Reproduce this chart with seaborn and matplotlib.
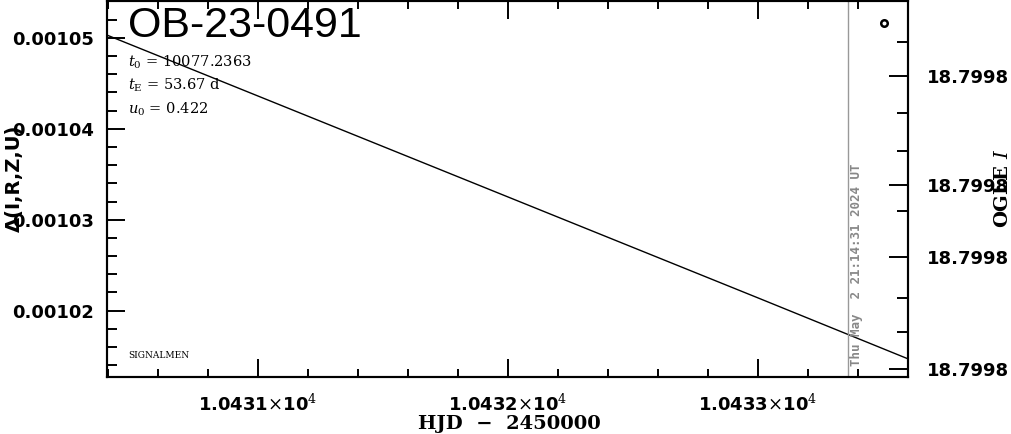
import numpy as np
import pandas as pd
import matplotlib
matplotlib.use('Agg')
import matplotlib.pyplot as plt
import matplotlib.ticker as mticker
import seaborn as sns

# model curve (HJD - 2450000, delta flux)
hjd_model = [10430.396, 10431.0, 10432.0, 10433.0, 10433.6]
delta_model = [0.0010503, 0.0010436, 0.0010325, 0.0010214, 0.0010147]

# single OGLE point near the top right corner
hjd_obs = [10433.504]
delta_obs = [0.0010516]

# "now" marker
hjd_now = 10433.359
now_label = 'Thu May  2 21:14:31 2024 UT'

event_name = 'OB-23-0491'
t0_text = r'$t_0$ = 10077.2363'
tE_text = r'$t_{\rm E}$ = 53.67 d'
u0_text = r'$u_0$ = 0.422'

xticks_major = [10431, 10432, 10433]
xtick_labels = [r'1.0431$\times$10$^4$', r'1.0432$\times$10$^4$', r'1.0433$\times$10$^4$']
yticks_left = [0.00102, 0.00103, 0.00104, 0.00105]
mag_major = [18.799770, 18.799799, 18.799818, 18.799848]
mag_minor = [18.799761, 18.799780, 18.799790, 18.799806, 18.799829, 18.799838]

sns.set_style('ticks')
plt.rcParams['font.family'] = ['DejaVu Sans']
plt.rcParams['mathtext.fontset'] = 'dejavuserif'
plt.rcParams['text.color'] = 'black'
plt.rcParams['axes.edgecolor'] = 'black'
plt.rcParams['axes.labelcolor'] = 'black'
plt.rcParams['xtick.color'] = 'black'
plt.rcParams['ytick.color'] = 'black'

fig = plt.figure(figsize=(10.11, 4.34), dpi=100)
ax = fig.add_axes([0.1058, 0.1313, 0.7923, 0.8675])

df = pd.DataFrame({'hjd': hjd_model, 'delta': delta_model})
sns.lineplot(data=df, x='hjd', y='delta', ax=ax, color='black', lw=1.0)
ax.scatter(hjd_obs, delta_obs, s=22, facecolor='white', edgecolor='black',
           linewidth=1.8, zorder=5)
ax.axvline(hjd_now, color='#999999', lw=1.0)

ax.set_xlim(10430.396, 10433.6)
ax.set_ylim(0.0010127, 0.0010541)
ax.set_xlabel('')
ax.set_ylabel('')

ax.set_xticks(xticks_major)
ax.set_xticklabels(xtick_labels, fontsize=13, fontweight='bold')
ax.xaxis.set_minor_locator(mticker.MultipleLocator(0.2))
ax.set_yticks(yticks_left)
ax.set_yticklabels(['%.5f' % v for v in yticks_left], fontsize=13, fontweight='bold')
ax.yaxis.set_minor_locator(mticker.MultipleLocator(0.000002))

ax.tick_params(axis='x', which='both', direction='in', top=True, bottom=True, width=1.4)
ax.tick_params(axis='x', which='major', length=13, pad=12)
ax.tick_params(axis='x', which='minor', length=6)
ax.tick_params(axis='y', which='both', direction='in', left=True, right=False, width=1.4)
ax.tick_params(axis='y', which='major', length=13, pad=9)
ax.tick_params(axis='y', which='minor', length=7)
for s in ax.spines.values():
    s.set_linewidth(1.5)
    s.set_visible(True)

ax2 = ax.twinx()
ax2.set_ylim(18.79985, 18.79975)
ax2.yaxis.set_major_locator(mticker.FixedLocator(mag_major))
ax2.yaxis.set_minor_locator(mticker.FixedLocator(mag_minor))
ax2.yaxis.set_major_formatter(mticker.FormatStrFormatter('%.4f'))
ax2.tick_params(axis='y', which='both', direction='in', width=1.4, labelsize=13)
ax2.tick_params(axis='y', which='major', length=14, pad=14)
ax2.tick_params(axis='y', which='minor', length=8)
for s in ax2.spines.values():
    s.set_linewidth(1.5)
for lab in ax2.get_yticklabels():
    lab.set_fontweight('bold')

# annotations inside the frame
ax.text(0.026, 0.985, event_name, transform=ax.transAxes, fontsize=31,
        family='Liberation Sans', va='top', ha='left')
ax.text(0.026, 0.835, t0_text, transform=ax.transAxes, fontsize=10.5,
        family='DejaVu Serif', va='center', ha='left')
ax.text(0.026, 0.775, tE_text, transform=ax.transAxes, fontsize=10.5,
        family='DejaVu Serif', va='center', ha='left')
ax.text(0.026, 0.712, u0_text, transform=ax.transAxes, fontsize=10.5,
        family='DejaVu Serif', va='center', ha='left')
ax.text(0.026, 0.058, 'SIGNALMEN', transform=ax.transAxes, fontsize=6.5,
        family='DejaVu Serif', va='center', ha='left')
ax.text(hjd_now + 0.036, 0.03, now_label, transform=ax.get_xaxis_transform(),
        rotation=90, fontsize=9, family='DejaVu Sans Mono', fontweight='bold',
        color='#888888', ha='center', va='bottom')

# axis titles
fig.text(0.504, 0.022, 'HJD  \u2212  2450000', ha='center', va='center',
         fontsize=14, family='DejaVu Serif', fontweight='bold')
fig.text(0.014, 0.59, '\u0394(I,R,Z,U)', rotation=90, ha='center', va='center',
         fontsize=14, fontweight='bold')
fig.text(0.992, 0.565, r'OGLE $\mathit{I}$', rotation=90, ha='center', va='center',
         fontsize=14, family='DejaVu Serif', fontweight='bold')

fig.savefig('out.png', dpi=100)
